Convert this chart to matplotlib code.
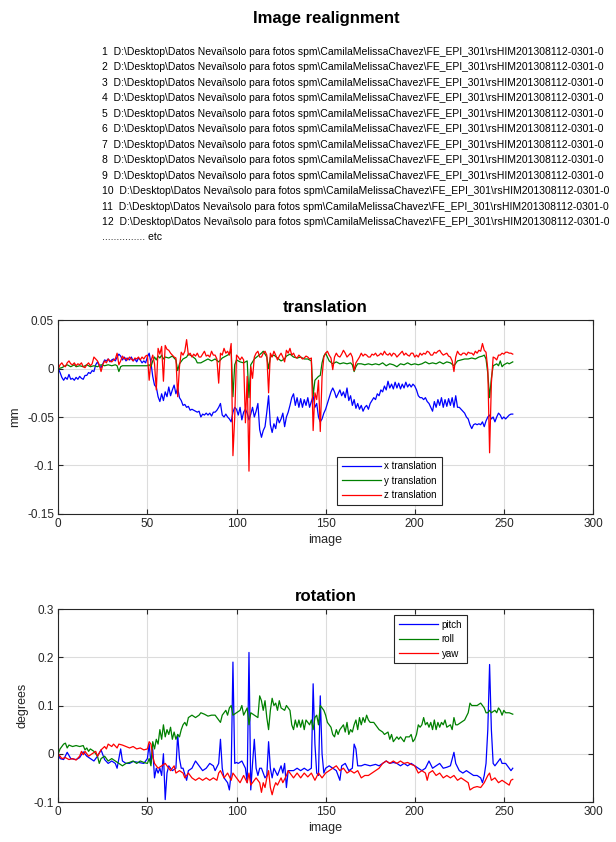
import numpy as np
import matplotlib
matplotlib.use("Agg")
from matplotlib import pyplot as plt
from matplotlib.ticker import FixedLocator, FixedFormatter

plt.rcParams["font.family"] = ["Liberation Sans", "DejaVu Sans"]

# ---- data -----------------------------------------------------------------
file_path = "D:\\Desktop\\Datos Nevai\\solo para fotos spm\\CamilaMelissaChavez\\FE_EPI_301\\rsHIM201308112-0301-0"
file_numbers = list(range(1, 13))

# x translation (mm), one value per image 0..255
x_trans = [
    0, -0.004, -0.009, -0.012, -0.009, -0.011, -0.006, -0.011, -0.01, -0.012, -0.009, -0.011, -0.008, -0.01, -0.011, -0.007,
    -0.007, -0.004, -0.005, -0.002, -0.003, 0.004, 0.007, 0.003, 0.001, 0.005, 0.009, 0.008, 0.01, 0.007, 0.009, 0.01,
    0.008, 0.012, 0.015, 0.013, 0.009, 0.012, 0.008, 0.011, 0.009, 0.012, 0.008, 0.01, 0.007, 0.011, 0.009, 0.006,
    0.008, 0.006, 0.012, 0.016, 0.006, -0.008, -0.017, -0.019, -0.029, -0.034, -0.026, -0.033, -0.024, -0.029, -0.019, -0.028,
    -0.022, -0.017, -0.026, -0.02, -0.03, -0.033, -0.038, -0.037, -0.04, -0.039, -0.043, -0.042, -0.043, -0.044, -0.045, -0.044,
    -0.05, -0.047, -0.048, -0.046, -0.048, -0.046, -0.049, -0.045, -0.045, -0.043, -0.04, -0.036, -0.048, -0.05, -0.047, -0.05,
    -0.052, -0.055, -0.045, -0.04, -0.042, -0.048, -0.04, -0.053, -0.045, -0.042, -0.046, -0.053, -0.047, -0.04, -0.05, -0.044,
    -0.036, -0.063, -0.071, -0.064, -0.06, -0.045, -0.028, -0.058, -0.066, -0.057, -0.062, -0.05, -0.056, -0.052, -0.046, -0.06,
    -0.05, -0.045, -0.038, -0.03, -0.026, -0.038, -0.03, -0.04, -0.031, -0.04, -0.032, -0.038, -0.03, -0.04, -0.034, -0.028,
    -0.04, -0.036, -0.05, -0.055, -0.052, -0.046, -0.042, -0.036, -0.03, -0.024, -0.02, -0.024, -0.03, -0.026, -0.022, -0.028,
    -0.024, -0.03, -0.02, -0.033, -0.028, -0.038, -0.032, -0.041, -0.036, -0.042, -0.038, -0.044, -0.04, -0.038, -0.042, -0.036,
    -0.033, -0.03, -0.032, -0.026, -0.028, -0.022, -0.024, -0.018, -0.022, -0.013, -0.02, -0.016, -0.021, -0.014, -0.02, -0.015,
    -0.021, -0.016, -0.02, -0.014, -0.019, -0.016, -0.019, -0.016, -0.018, -0.022, -0.028, -0.03, -0.03, -0.032, -0.03, -0.034,
    -0.036, -0.04, -0.044, -0.034, -0.04, -0.032, -0.038, -0.03, -0.04, -0.032, -0.039, -0.031, -0.038, -0.03, -0.04, -0.028,
    -0.04, -0.04, -0.042, -0.044, -0.046, -0.05, -0.052, -0.058, -0.062, -0.058, -0.057, -0.058, -0.057, -0.058, -0.055, -0.06,
    -0.054, -0.05, -0.048, -0.052, -0.05, -0.055, -0.05, -0.046, -0.048, -0.052, -0.05, -0.052, -0.05, -0.048, -0.047, -0.047,
]

# z translation (mm), one value per image 0..255
z_trans = [
    0, 0.004, 0.006, 0.003, 0.002, 0.006, 0.008, 0.005, 0.004, 0.006, 0.003, 0.005, 0.004, 0.006, 0.002, 0.001,
    0.004, 0.006, 0.003, 0.005, 0.012, 0.01, 0.008, 0.004, -0.003, 0.004, 0.008, 0.006, 0.01, 0.008, 0.007, 0.009,
    0.01, 0.016, 0.004, 0.008, 0.013, 0.01, 0.011, 0.009, 0.012, 0.01, 0.008, 0.011, 0.01, 0.012, 0.009, 0.012,
    0.01, 0.013, 0.014, -0.012, 0.008, 0.014, 0.005, -0.022, 0.021, 0.015, 0.023, -0.013, 0.024, 0.02, 0.019, 0.016,
    0.014, 0.012, 0.011, -0.029, 0.002, 0.017, 0.014, 0.018, 0.03, 0.014, 0.016, 0.012, 0.015, 0.013, 0.016, 0.012,
    0.012, 0.015, 0.018, 0.013, 0.014, 0.012, 0.018, 0.014, 0.014, 0.01, -0.015, 0.016, 0.014, 0.021, 0.016, 0.018,
    0.014, 0.026, -0.09, -0.05, 0.014, 0.012, 0.009, 0.012, 0.009, -0.056, -0.008, -0.106, 0.002, -0.01, 0.012, 0.016,
    0.018, 0.012, 0.012, 0.016, 0.018, 0.014, -0.025, 0.016, 0.012, 0.018, 0.014, 0.009, 0.013, 0.016, 0.012, 0.007,
    0.019, 0.016, 0.021, 0.014, 0.016, 0.012, 0.011, 0.014, 0.012, 0.01, 0.011, 0.013, 0.012, 0.01, 0.011, -0.064,
    -0.025, -0.032, -0.012, -0.065, -0.008, 0.012, 0.016, 0.018, 0.014, 0.011, -0.001, 0.012, 0.016, 0.013, 0.012, 0.015,
    0.019, 0.016, 0.012, 0.014, 0.016, 0.012, -0.002, 0.006, 0.009, 0.012, 0.016, 0.013, 0.015, 0.014, 0.012, 0.012,
    0.015, 0.014, 0.016, 0.013, 0.014, 0.016, 0.014, 0.018, 0.015, 0.014, 0.016, 0.013, 0.016, 0.015, 0.012, 0.014,
    0.016, 0.018, 0.014, 0.016, 0.014, 0.013, 0.016, 0.016, 0.012, 0.014, 0.012, 0.016, 0.014, 0.016, 0.015, 0.018,
    0.017, 0.014, 0.014, 0.017, 0.016, 0.018, 0.019, 0.016, 0.014, 0.015, 0.016, 0.013, 0.012, 0.008, -0.003, 0.012,
    0.018, 0.015, 0.014, 0.016, 0.016, 0.014, 0.017, 0.016, 0.016, 0.014, 0.018, 0.016, 0.019, 0.018, 0.026, 0.019,
    0.017, -0.001, -0.087, -0.015, 0.012, 0.011, 0.009, 0.014, 0.014, 0.016, 0.015, 0.017, 0.017, 0.016, 0.016, 0.015,
]

# y translation (mm), (image, value) read at the visible vertices
y_trans_pts = [
    (0, 0), (2, 0.001), (4, 0.003), (5, 0.004), (7, 0.002), (9, 0.004), (10, 0.002), (12, 0.003), (14, 0.002),
    (16, 0.004), (18, 0.002), (20, 0.003), (22, 0.002), (24, 0.004), (26, 0.003), (28, 0.004), (30, 0.003),
    (32, 0.004), (33, 0.003), (34, -0.003), (35, 0.002), (36, 0.003), (40, 0.003), (45, 0.003), (50, 0.003),
    (51, 0.004), (52, 0.002), (53, 0.008), (54, 0.012), (55, 0.009), (56, 0.013), (57, 0.011), (58, 0.014),
    (59, 0.01), (60, 0.012), (62, 0.011), (64, 0.013), (66, 0.009), (67, -0.002), (68, 0.005), (70, 0.01),
    (72, 0.012), (73, 0.015), (75, 0.013), (77, 0.01), (78, 0.006), (80, 0.006), (82, 0.008), (84, 0.01),
    (86, 0.008), (88, 0.01), (90, 0.007), (92, 0.011), (94, 0.013), (96, 0.015), (97, 0.02), (98, -0.029),
    (99, 0.004), (100, 0.009), (102, 0.007), (104, 0.006), (106, 0.008), (107, -0.03), (108, 0.004), (110, 0.01),
    (112, 0.013), (114, 0.016), (115, 0.018), (117, 0.012), (118, 0.0), (119, 0.012), (121, 0.014), (123, 0.011),
    (125, 0.008), (127, 0.01), (128, 0.013), (130, 0.015), (132, 0.012), (134, 0.011), (136, 0.012), (138, 0.01),
    (140, 0.01), (142, 0.008), (143, -0.028), (144, -0.012), (146, -0.008), (147, -0.007), (148, 0.006),
    (149, 0.013), (150, 0.016), (151, 0.012), (152, 0.008), (154, 0.005), (156, 0.007), (158, 0.005), (160, 0.006),
    (162, 0.005), (164, 0.006), (165, 0.004), (166, -0.003), (167, 0.002), (168, 0.005), (170, 0.005), (172, 0.004),
    (174, 0.005), (176, 0.004), (178, 0.005), (180, 0.004), (182, 0.006), (184, 0.003), (186, 0.005), (188, 0.004),
    (190, 0.002), (192, 0.005), (194, 0.004), (196, 0.006), (198, 0.004), (200, 0.005), (202, 0.004), (204, 0.005),
    (206, 0.007), (208, 0.005), (210, 0.006), (212, 0.005), (214, 0.007), (216, 0.005), (218, 0.007), (220, 0.006),
    (222, 0.003), (224, 0.008), (226, 0.009), (228, 0.01), (230, 0.01), (232, 0.011), (234, 0.01), (236, 0.012),
    (238, 0.013), (239, 0.014), (240, 0.01), (241, -0.005), (242, -0.03), (243, -0.01), (244, 0.003), (246, 0.005),
    (247, 0.003), (248, 0.008), (249, 0.002), (250, 0.004), (252, 0.006), (253, 0.005), (255, 0.007),
]

# rotations (degrees), (image, value)
pitch_pts = [
    (0, 0), (1, -0.01), (3, -0.012), (5, 0.003), (7, -0.01), (10, -0.012), (12, -0.008), (14, 0.004), (16, -0.005),
    (18, -0.01), (20, -0.015), (22, -0.005), (24, 0.008), (26, -0.012), (28, -0.02), (30, -0.015), (32, -0.02),
    (33, -0.03), (35, 0.01), (36, -0.015), (38, -0.02), (40, -0.02), (42, -0.016), (45, -0.018), (48, -0.02),
    (50, -0.01), (51, 0.02), (52, -0.02), (53, 0.01), (54, -0.05), (55, -0.03), (56, -0.04), (57, -0.03),
    (58, -0.045), (59, 0.0), (60, -0.095), (61, -0.04), (62, -0.025), (63, -0.03), (64, -0.035), (66, -0.03),
    (67, 0.04), (68, -0.01), (69, -0.03), (70, -0.03), (72, -0.055), (73, -0.035), (75, -0.03), (77, -0.015),
    (79, -0.025), (81, -0.035), (83, -0.03), (85, -0.02), (87, -0.025), (88, -0.035), (90, -0.02), (91, 0.03),
    (92, -0.03), (93, -0.05), (95, -0.06), (96, -0.075), (97, -0.04), (98, 0.19), (99, -0.02), (100, -0.018),
    (101, -0.02), (103, -0.015), (105, -0.03), (106, -0.06), (107, 0.21), (108, -0.075), (109, -0.02), (110, 0.03),
    (111, -0.03), (112, -0.045), (113, -0.03), (114, -0.03), (116, -0.05), (117, -0.045), (118, 0.025),
    (119, -0.03), (120, -0.05), (121, -0.03), (123, -0.045), (125, -0.025), (126, -0.04), (127, -0.02),
    (128, -0.07), (129, -0.035), (130, -0.035), (132, -0.035), (134, -0.03), (136, -0.035), (138, -0.03),
    (140, -0.035), (142, -0.03), (143, 0.145), (144, 0.02), (145, -0.04), (146, -0.045), (147, 0.12), (148, 0.0),
    (149, -0.04), (150, -0.03), (152, -0.025), (154, -0.03), (156, -0.035), (158, -0.055), (159, -0.025),
    (161, -0.02), (163, -0.035), (165, -0.03), (166, 0.02), (167, 0.01), (168, -0.025), (170, -0.025),
    (172, -0.022), (175, -0.025), (178, -0.022), (180, -0.025), (182, -0.02), (184, -0.015), (186, -0.02),
    (188, -0.018), (190, -0.02), (192, -0.025), (194, -0.02), (196, -0.025), (198, -0.02), (200, -0.025),
    (202, -0.03), (204, -0.035), (206, -0.03), (208, -0.015), (210, -0.03), (212, -0.025), (214, -0.02),
    (216, -0.03), (218, -0.028), (220, -0.025), (222, 0.003), (223, -0.02), (225, -0.035), (227, -0.04),
    (229, -0.035), (231, -0.04), (233, -0.045), (235, -0.045), (237, -0.05), (238, -0.06), (239, -0.045),
    (240, -0.02), (241, 0.05), (242, 0.185), (243, 0.05), (244, -0.02), (245, -0.025), (247, -0.015),
    (248, -0.01), (249, -0.02), (251, -0.02), (253, -0.03), (254, -0.035), (255, -0.03),
]

roll_pts = [
    (0, 0), (1, 0.01), (3, 0.02), (4, 0.022), (5, 0.012), (6, 0.018), (8, 0.015), (10, 0.017), (12, 0.015),
    (14, 0.017), (15, 0.008), (16, 0.012), (17, 0.005), (18, 0.01), (20, 0.005), (22, -0.005), (23, -0.02),
    (24, -0.01), (26, -0.005), (28, -0.015), (30, -0.01), (32, -0.015), (34, -0.02), (36, -0.025), (38, -0.02),
    (40, -0.018), (42, -0.015), (44, -0.02), (46, -0.015), (48, -0.018), (50, -0.02), (51, -0.01), (52, -0.025),
    (53, 0.025), (54, 0.01), (55, 0.03), (56, 0.02), (57, 0.05), (58, 0.03), (59, 0.06), (60, 0.035), (61, 0.05),
    (62, 0.04), (63, 0.055), (64, 0.03), (65, 0.045), (66, 0.03), (67, 0.04), (68, 0.035), (69, 0.05), (70, 0.06),
    (71, 0.065), (72, 0.058), (73, 0.075), (75, 0.08), (77, 0.075), (79, 0.08), (80, 0.085), (82, 0.082),
    (84, 0.078), (86, 0.08), (88, 0.08), (90, 0.07), (91, 0.065), (92, 0.08), (94, 0.09), (95, 0.08), (96, 0.095),
    (97, 0.1), (98, 0.08), (100, 0.085), (102, 0.09), (103, 0.1), (104, 0.08), (106, 0.095), (107, 0.06),
    (108, 0.085), (110, 0.08), (112, 0.075), (113, 0.12), (114, 0.11), (115, 0.09), (116, 0.11), (117, 0.075),
    (118, 0.05), (119, 0.09), (120, 0.115), (121, 0.1), (122, 0.105), (123, 0.09), (124, 0.11), (125, 0.095),
    (127, 0.09), (128, 0.1), (130, 0.09), (131, 0.06), (132, 0.05), (133, 0.07), (134, 0.055), (135, 0.07),
    (136, 0.055), (137, 0.07), (138, 0.05), (139, 0.07), (140, 0.065), (141, 0.06), (142, 0.07), (143, 0.05),
    (144, 0.075), (145, 0.08), (146, 0.06), (147, 0.1), (148, 0.095), (149, 0.09), (150, 0.08), (151, 0.065),
    (152, 0.06), (153, 0.055), (154, 0.04), (155, 0.035), (156, 0.05), (157, 0.04), (158, 0.05), (160, 0.06),
    (161, 0.045), (162, 0.065), (163, 0.04), (164, 0.05), (165, 0.045), (166, 0.06), (167, 0.07), (168, 0.05),
    (169, 0.075), (170, 0.06), (171, 0.075), (172, 0.065), (173, 0.08), (174, 0.07), (175, 0.065), (177, 0.065),
    (178, 0.06), (180, 0.05), (182, 0.045), (183, 0.04), (185, 0.045), (186, 0.03), (187, 0.04), (188, 0.025),
    (190, 0.035), (191, 0.03), (192, 0.035), (194, 0.025), (195, 0.035), (197, 0.035), (198, 0.04), (199, 0.025),
    (200, 0.03), (201, 0.04), (202, 0.06), (203, 0.055), (204, 0.06), (205, 0.075), (206, 0.06), (207, 0.065),
    (208, 0.055), (209, 0.065), (210, 0.05), (211, 0.07), (212, 0.05), (213, 0.065), (214, 0.055), (215, 0.065),
    (216, 0.06), (217, 0.07), (218, 0.055), (220, 0.06), (221, 0.05), (222, 0.075), (223, 0.06), (224, 0.06),
    (226, 0.065), (228, 0.07), (230, 0.085), (231, 0.105), (232, 0.1), (233, 0.1), (235, 0.1), (237, 0.105),
    (239, 0.095), (240, 0.085), (241, 0.085), (242, 0.09), (243, 0.085), (245, 0.09), (246, 0.085), (247, 0.095),
    (248, 0.09), (249, 0.08), (250, 0.09), (251, 0.085), (253, 0.085), (255, 0.082),
]

yaw_pts = [
    (0, 0), (2, -0.01), (4, -0.008), (6, -0.012), (8, -0.01), (10, -0.013), (12, -0.005), (13, 0.005), (14, -0.002),
    (15, 0.005), (17, -0.005), (19, 0.0), (21, 0.005), (22, -0.005), (24, 0.008), (26, 0.015), (27, 0.01),
    (28, 0.02), (30, 0.015), (31, 0.02), (33, 0.012), (34, 0.02), (36, 0.018), (38, 0.015), (40, 0.012),
    (42, 0.015), (44, 0.01), (46, 0.012), (48, 0.008), (50, 0.01), (51, 0.025), (52, 0.02), (53, -0.005),
    (54, -0.02), (56, -0.03), (58, -0.025), (60, -0.02), (62, -0.03), (63, -0.035), (65, -0.025), (66, -0.04),
    (68, -0.035), (70, -0.04), (71, -0.05), (73, -0.04), (75, -0.05), (77, -0.055), (79, -0.05), (81, -0.055),
    (83, -0.05), (85, -0.055), (87, -0.05), (89, -0.055), (90, -0.04), (91, -0.035), (93, -0.05), (95, -0.04),
    (97, -0.055), (98, -0.04), (100, -0.05), (102, -0.06), (104, -0.045), (106, -0.06), (107, -0.04), (108, -0.065),
    (110, -0.055), (111, -0.05), (113, -0.06), (114, -0.08), (115, -0.06), (116, -0.07), (117, -0.05),
    (118, -0.035), (119, -0.07), (120, -0.085), (121, -0.07), (122, -0.06), (123, -0.065), (125, -0.05),
    (126, -0.06), (128, -0.045), (129, -0.035), (130, -0.04), (132, -0.05), (134, -0.04), (136, -0.05),
    (138, -0.04), (140, -0.048), (142, -0.04), (144, -0.055), (146, -0.04), (148, -0.05), (150, -0.04),
    (152, -0.035), (154, -0.03), (156, -0.025), (158, -0.035), (160, -0.03), (162, -0.04), (164, -0.035),
    (166, -0.04), (168, -0.035), (170, -0.05), (172, -0.045), (174, -0.045), (176, -0.04), (178, -0.035),
    (180, -0.03), (182, -0.02), (184, -0.015), (186, -0.02), (188, -0.015), (190, -0.02), (192, -0.015),
    (194, -0.02), (196, -0.018), (198, -0.022), (200, -0.025), (202, -0.04), (204, -0.035), (206, -0.04),
    (207, -0.055), (208, -0.04), (210, -0.035), (212, -0.045), (214, -0.04), (216, -0.05), (218, -0.045),
    (220, -0.05), (222, -0.045), (224, -0.055), (226, -0.05), (228, -0.055), (230, -0.06), (231, -0.075),
    (233, -0.07), (235, -0.068), (237, -0.07), (239, -0.06), (241, -0.045), (242, -0.04), (243, -0.055),
    (245, -0.05), (247, -0.06), (249, -0.055), (251, -0.06), (253, -0.065), (254, -0.055), (255, -0.053),
]

trans_labels = ["x translation", "y translation", "z translation"]
rot_labels = ["pitch", "roll", "yaw"]
trans_yticks = [0.05, 0, -0.05, -0.1, -0.15]
trans_yticklabels = ["0.05", "0", "-0.05", "-0.1", "-0.15"]
rot_yticks = [0.3, 0.2, 0.1, 0, -0.1]
rot_yticklabels = ["0.3", "0.2", "0.1", "0", "-0.1"]
xticks = [0, 50, 100, 150, 200, 250, 300]

colors = ["#0000ff", "#008000", "#ff0000"]
text_color = "#262626"


def unzip(pts):
    return [p[0] for p in pts], [p[1] for p in pts]


def style_axis(ax, yticks, yticklabels, ylim):
    ax.set_xlim(0, 300)
    ax.set_ylim(*ylim)
    ax.xaxis.set_major_locator(FixedLocator(xticks))
    ax.yaxis.set_major_locator(FixedLocator(yticks))
    ax.yaxis.set_major_formatter(FixedFormatter(yticklabels))
    ax.tick_params(direction="in", top=True, right=True, length=3.5, width=0.8,
                   labelsize=8.5, colors=text_color, pad=3)
    for s in ax.spines.values():
        s.set_color(text_color)
        s.set_linewidth(0.8)
    ax.grid(True, color="#dcdcdc", linewidth=0.8)
    ax.set_axisbelow(True)
    ax.set_xlabel("image", fontsize=9, color=text_color, labelpad=3)


fig = plt.figure(figsize=(6.16, 8.42), dpi=100)

# header: list of realigned files, running up to the right edge as in the original
fig.text(0.53, 1 - 18 / 842, "Image realignment", ha="center", va="center",
         fontsize=12, fontweight="bold", color="black")
for i, n in enumerate(file_numbers):
    line = f"{n}  {file_path}"
    fig.text(0.166, 1 - (52 + i * 15.45) / 842, line, ha="left", va="center",
             fontsize=7.5, color="black")
fig.text(0.166, 1 - 237 / 842, "............... etc", ha="left", va="center",
         fontsize=7.5, color="black")

# translation
ax1 = fig.add_axes([0.0946, 0.3899, 0.868, 0.2297])
img = np.arange(len(x_trans))
yx, yv = unzip(y_trans_pts)
ax1.plot(img, x_trans, color=colors[0], lw=0.9, label=trans_labels[0])
ax1.plot(yx, yv, color=colors[1], lw=0.9, label=trans_labels[1])
ax1.plot(np.arange(len(z_trans)), z_trans, color=colors[2], lw=0.9, label=trans_labels[2])
style_axis(ax1, trans_yticks, trans_yticklabels, (-0.15, 0.05))
ax1.set_ylabel("mm", fontsize=9, color=text_color, labelpad=4)
ax1.set_title("translation", fontsize=12, fontweight="bold", pad=6)
leg1 = ax1.legend(loc="lower left", bbox_to_anchor=(0.521, 0.045), fontsize=7,
                  fancybox=False, edgecolor=text_color, framealpha=1,
                  handlelength=4.0, handletextpad=0.4, borderaxespad=0,
                  labelspacing=0.45, borderpad=0.5)
leg1.get_frame().set_linewidth(0.8)

# rotation
ax2 = fig.add_axes([0.0946, 0.0475, 0.868, 0.2292])
px, pv = unzip(pitch_pts)
rx, rv = unzip(roll_pts)
wx, wv = unzip(yaw_pts)
ax2.plot(px, pv, color=colors[0], lw=0.9, label=rot_labels[0])
ax2.plot(rx, rv, color=colors[1], lw=0.9, label=rot_labels[1])
ax2.plot(wx, wv, color=colors[2], lw=0.9, label=rot_labels[2])
style_axis(ax2, rot_yticks, rot_yticklabels, (-0.1, 0.3))
ax2.set_ylabel("degrees", fontsize=9, color=text_color, labelpad=4)
ax2.set_title("rotation", fontsize=12, fontweight="bold", pad=6)
leg2 = ax2.legend(loc="upper left", bbox_to_anchor=(0.628, 0.969), fontsize=7,
                  fancybox=False, edgecolor=text_color, framealpha=1,
                  handlelength=4.0, handletextpad=0.4, borderaxespad=0,
                  labelspacing=0.45, borderpad=0.5)
leg2.get_frame().set_linewidth(0.8)

fig.savefig("out.png", dpi=100)
